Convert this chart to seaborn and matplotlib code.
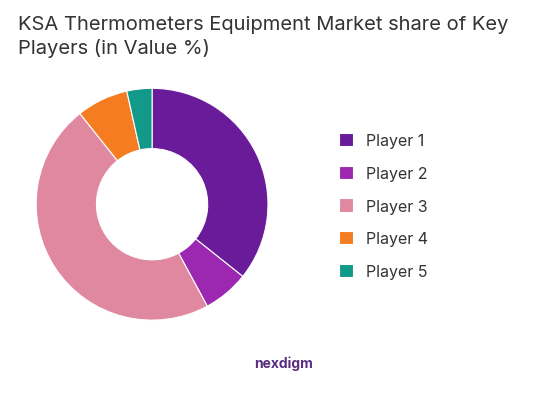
import matplotlib
matplotlib.use("Agg")
import matplotlib.pyplot as plt
import seaborn as sns

sns.set_theme(style="white")
plt.rcParams['font.family'] = ['Inter', 'DejaVu Sans']

players = ["Player 1", "Player 2", "Player 3", "Player 4", "Player 5"]
shares = [35.7, 6.4, 47.2, 7.2, 3.5]
colors = ["#6a1b9a", "#9c27b0", "#e0889f", "#f57c20", "#11998a"]

fig = plt.figure(figsize=(5.55, 4.06), dpi=100)
ax = fig.add_axes([0.065, 0.209, 0.418, 0.571])
wedges, _ = ax.pie(shares, colors=colors, startangle=90, counterclock=False,
                   wedgeprops=dict(width=0.52, edgecolor="white", linewidth=0.8))
ax.set_xlim(-1.0, 1.0)
ax.set_ylim(-1.0, 1.0)
ax.set_aspect("equal")

fig.text(0.032, 0.96, "KSA Thermometers Equipment Market share of Key\nPlayers (in Value %)",
         fontsize=14.5, color="#333333", va="top", ha="left", linespacing=1.35)

leg = fig.legend(wedges, players, loc="center left", bbox_to_anchor=(0.585, 0.49),
                 frameon=False, fontsize=11.5, handlelength=0.9, handleheight=0.9,
                 labelspacing=1.1, handletextpad=0.8)
for t in leg.get_texts():
    t.set_color("#333333")

fig.text(0.51, 0.105, "nexdigm", fontsize=10, color="#5a2d82", ha="center", va="center", fontweight="bold")

fig.savefig("out.png", dpi=100, facecolor="white")
